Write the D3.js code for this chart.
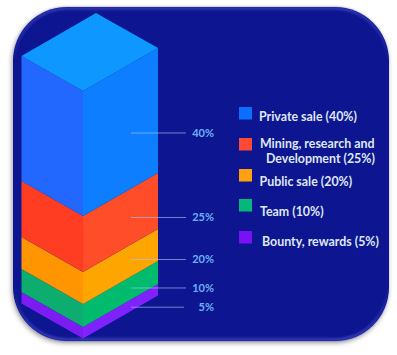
<!DOCTYPE html>
<html><head><meta charset="utf-8">
<script src="https://cdnjs.cloudflare.com/ajax/libs/d3/7.8.5/d3.min.js"></script>
<style>html,body{margin:0;padding:0;background:#fff}svg{display:block}</style></head>
<body><svg id="c" width="397" height="355"></svg>
<script>
const categories = ["Private sale","Mining, research and Development","Public sale","Team","Bounty, rewards"];
const values = [40,25,20,10,5];
const valueLabels = ["40%","25%","20%","10%","5%"];
const legendLines = [["Private sale (40%)"],["Mining, research and","Development (25%)"],["Public sale (20%)"],["Team (10%)"],["Bounty, rewards (5%)"]];
const leftColors = ["#2468ff","#ff3d22","#ff9500","#07ad70","#7a1cf2"];
const rightColors = ["#0a7eff","#ff4d2c","#ffa500","#00bb6e","#8022ff"];
const swatchColors = ["#0a6fff","#ff4a35","#ffa010","#05b878","#7a10f5"];
const topColor = "#0a97ff";

const svg = d3.select("#c");
const defs = svg.append("defs");
const sh = defs.append("filter").attr("id","sh").attr("x","-10%").attr("y","-10%").attr("width","120%").attr("height","120%");
sh.append("feDropShadow").attr("dx",-1).attr("dy",2).attr("stdDeviation",2.5).attr("flood-color","#000").attr("flood-opacity",.4);
const soft = defs.append("filter").attr("id","soft");
soft.append("feGaussianBlur").attr("stdDeviation",.35);
const soft2 = defs.append("filter").attr("id","soft2");
soft2.append("feGaussianBlur").attr("stdDeviation",.9);
const eg = defs.append("linearGradient").attr("id","edge").attr("x1",0).attr("y1",0).attr("x2",0).attr("y2",1);
[[0,.8],[.1,.35],[.16,0],[.84,0],[.9,.35],[1,.9]].forEach(s=>eg.append("stop").attr("offset",s[0]).attr("stop-color","#4a50c8").attr("stop-opacity",s[1]));

// panel
svg.append("rect").attr("x",13).attr("y",7).attr("width",376).attr("height",334).attr("rx",54).attr("ry",54)
  .attr("fill","#0a1290").attr("filter","url(#sh)");
svg.append("rect").attr("x",14.5).attr("y",8.5).attr("width",373).attr("height",331).attr("rx",53).attr("ry",53)
  .attr("fill","none").attr("stroke","url(#edge)").attr("stroke-width",2).attr("filter","url(#soft2)");

// stacked prism: the vertical scale runs through cumulative share
const y = d3.scaleLinear().domain([0,5,15,35,60,100]).range([338.5,327,304,272,216,91]);
const xs = d3.scaleLinear().domain([-1,0,1]).range([21.5,83,158]);
const rise = d3.scaleLinear().domain([-1,0,1]).range([35,0,43]);
const pt = (side,share)=>[xs(side), y(share)-rise(side)];
const line = d3.line();

const bands = values.map((v,i)=>{
  const upper = 100 - d3.sum(values.slice(0,i));
  return {i, v, upper, lower: upper - v};
});
const g = svg.append("g").attr("filter","url(#soft)");
g.selectAll("path.l").data(bands.slice().reverse()).join("path").attr("class","l")
  .attr("d",d=>line([pt(-1,d.upper),pt(0,d.upper),pt(0,d.lower),pt(-1,d.lower)])+"Z")
  .attr("fill",d=>leftColors[d.i]);
g.selectAll("path.r").data(bands.slice().reverse()).join("path").attr("class","r")
  .attr("d",d=>line([pt(0,d.upper),pt(1,d.upper),pt(1,d.lower),pt(0,d.lower)])+"Z")
  .attr("fill",d=>rightColors[d.i]);
// top face
const back = [96, 13];
g.append("path").attr("d",line([pt(-1,100),back,pt(1,100),pt(0,100)])+"Z").attr("fill",topColor);

// leaders and labels
const leaderX = d3.scaleLinear().domain([0,1]).range([131,186]);
const labelRight = 214;
const leaderNudge = [7,1,-1,0,2];
const leaderY = d=>{
  const f=(leaderX(0)-xs(0))/(xs(1)-xs(0));
  return (y(d.upper)+y(d.lower))/2 - f*rise(1) + leaderNudge[d.i];
};
svg.selectAll("line.lead").data(bands).join("line").attr("class","lead")
  .attr("x1",leaderX(0)).attr("x2",d=>leaderX(1)-(d.i===4?2:0))
  .attr("y1",leaderY).attr("y2",leaderY)
  .attr("stroke","#a9c6f2").attr("stroke-opacity",.7).attr("stroke-width",.9);
svg.selectAll("text.val").data(bands).join("text").attr("class","val")
  .attr("x",labelRight).attr("y",leaderY).attr("dy","0.35em").attr("text-anchor","end")
  .attr("font-family","Lato").attr("font-weight",700).attr("font-size",11)
  .attr("fill","#6fb0f5").text(d=>valueLabels[d.i]);

// legend
const swatchY = [107,138,169,199,231];
const textX = [[259],[260],[259.5],[260],[262]];
const textY = [[117],[144,159],[182],[212],[242]];
const lg = svg.selectAll("g.lg").data(categories).join("g").attr("class","lg");
lg.append("rect").attr("x",239).attr("y",(d,i)=>swatchY[i]).attr("width",13).attr("height",12.5)
  .attr("fill",(d,i)=>swatchColors[i]);
lg.each(function(d,i){
  d3.select(this).selectAll("text").data(legendLines[i]).join("text")
    .attr("x",(t,j)=>j===1?266:textX[i][0]).attr("y",(t,j)=>textY[i][j]).attr("dy","0.35em")
    .attr("font-family","Lato").attr("font-weight",700).attr("font-size",12.4)
    .attr("fill","#dfe7f6").text(t=>t);
});
</script></body></html>
